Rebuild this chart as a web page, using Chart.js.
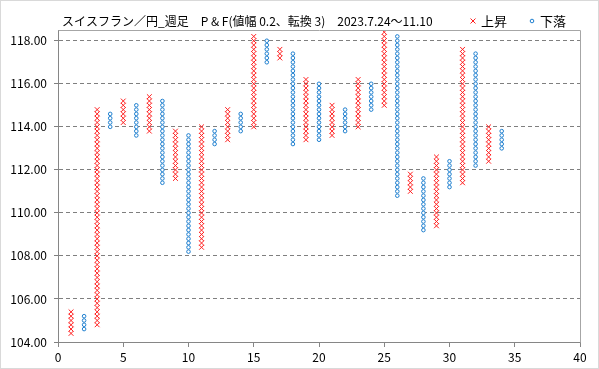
<!DOCTYPE html>
<html>
<head>
<meta charset="utf-8">
<script src="https://cdn.jsdelivr.net/npm/chart.js@4"></script>
<style>
  html, body { margin: 0; padding: 0; background: #fff; }
  #wrap { width: 599px; height: 369px; position: relative; }
</style>
</head>
<body>
<div id="wrap"><canvas id="pfChart"></canvas></div>
<script>
// 値幅 0.2 の P&F、列ごとの安値・高値
const boxSize = 0.2;

// 上昇 (X) の列
const upCols  = [1, 3, 5, 7, 9, 11, 13, 15, 17, 19, 21, 23, 25, 27, 29, 31, 33];
const upLows  = [104.4, 104.8, 114.2, 113.8, 111.6, 108.4, 113.4, 114.0, 117.2, 113.4, 113.6, 114.0, 115.0, 111.0, 109.4, 111.4, 112.4];
const upHighs = [105.4, 114.8, 115.2, 115.4, 113.8, 114.0, 114.8, 118.2, 117.6, 116.2, 115.0, 116.2, 118.4, 111.8, 112.6, 117.6, 114.0];

// 下落 (O) の列
const downCols  = [2, 4, 6, 8, 10, 12, 14, 16, 18, 20, 22, 24, 26, 28, 30, 32, 34];
const downLows  = [104.6, 114.0, 113.6, 111.4, 108.2, 113.2, 113.8, 117.0, 113.2, 113.4, 113.8, 114.8, 110.8, 109.2, 111.2, 112.2, 113.0];
const downHighs = [105.2, 114.6, 115.0, 115.2, 113.6, 113.8, 114.6, 118.0, 117.4, 116.0, 114.8, 116.0, 118.2, 111.6, 112.4, 117.4, 113.8];

const yTicks = [104, 106, 108, 110, 112, 114, 116, 118];

const titleText = "スイスフラン／円_週足　P & F(値幅 0.2、転換 3)　2023.7.24～11.10";
const fontJP = "'Noto Sans CJK JP', 'Noto Sans', sans-serif";
const upColor = "#ff2020";
const downColor = "#1f80d0";

// 各列を枠ごとの点に展開
function boxes(cols, lows, highs) {
  const pts = [];
  cols.forEach((c, i) => {
    const n = Math.round((highs[i] - lows[i]) / boxSize);
    for (let k = 0; k <= n; k++) {
      pts.push({ x: c, y: +(lows[i] + k * boxSize).toFixed(1) });
    }
  });
  return pts;
}

// 枠線・タイトル・凡例
const frame = {
  id: "frame",
  beforeDraw(chart) {
    const c = chart.ctx;
    c.save();
    c.fillStyle = "#fff";
    c.fillRect(0, 0, chart.width, chart.height);
    c.strokeStyle = "#d9d9d9";
    c.lineWidth = 1;
    c.strokeRect(0.5, 0.5, chart.width - 1, chart.height - 1);
    c.fillStyle = "#000";
    c.font = "12px " + fontJP;
    c.textBaseline = "middle";
    c.fillText(titleText, 62, 21);

    // 凡例
    c.font = "13px " + fontJP;
    c.fillText("上昇", 481, 21);
    c.fillText("下落", 540, 21);
    c.strokeStyle = upColor;
    c.beginPath();
    c.moveTo(470.5, 18.5); c.lineTo(475.5, 23.5);
    c.moveTo(475.5, 18.5); c.lineTo(470.5, 23.5);
    c.stroke();
    c.strokeStyle = downColor;
    c.beginPath();
    c.arc(532, 21, 1.8, 0, Math.PI * 2);
    c.stroke();
    c.restore();
  },
  afterDraw(chart) {
    const a = chart.chartArea;
    const c = chart.ctx;
    c.save();
    c.strokeStyle = "#a6a6a6";
    c.lineWidth = 1;
    c.beginPath();
    c.moveTo(Math.round(a.left) + 0.5, Math.round(a.top) + 0.5);
    c.lineTo(Math.round(a.right) + 0.5, Math.round(a.top) + 0.5);
    c.lineTo(Math.round(a.right) + 0.5, Math.round(a.bottom) + 0.5);
    c.stroke();
    c.restore();
  }
};

const ctx = document.getElementById("pfChart").getContext("2d");
new Chart(ctx, {
  type: "scatter",
  data: {
    datasets: [
      {
        label: "上昇",
        data: boxes(upCols, upLows, upHighs),
        pointStyle: "crossRot",
        pointRadius: 3.4,
        pointHoverRadius: 3.4,
        borderColor: upColor,
        backgroundColor: upColor,
        pointBorderWidth: 1
      },
      {
        label: "下落",
        data: boxes(downCols, downLows, downHighs),
        pointStyle: "circle",
        pointRadius: 1.8,
        pointHoverRadius: 1.8,
        borderColor: downColor,
        backgroundColor: "#ffffff",
        pointBorderWidth: 1
      }
    ]
  },
  plugins: [frame],
  options: {
    responsive: true,
    maintainAspectRatio: false,
    animation: false,
    layout: { padding: { left: 0, right: 19, top: 30, bottom: 0 } },
    plugins: {
      tooltip: { enabled: false },
      legend: { display: false }
    },
    scales: {
      x: {
        type: "linear",
        min: 0,
        max: 40,
        afterFit: s => { s.height = 27; },
        ticks: { stepSize: 5, padding: 3, color: "#000", font: { size: 12, family: fontJP } },
        grid: { drawOnChartArea: false, tickLength: 5, color: "#868686" },
        border: { color: "#868686" }
      },
      y: {
        min: 104,
        max: 118.5,
        afterFit: s => { s.width = 58; },
        afterBuildTicks: s => { s.ticks = yTicks.map(v => ({ value: v })); },
        ticks: {
          color: "#000",
          padding: 7,
          font: { size: 12, family: fontJP },
          callback: v => v.toFixed(2)
        },
        grid: { color: "#7f7f7f", tickLength: 4, tickBorderDash: [] },
        border: { color: "#868686", dash: [4, 3] }
      }
    }
  }
});
</script>
</body>
</html>
